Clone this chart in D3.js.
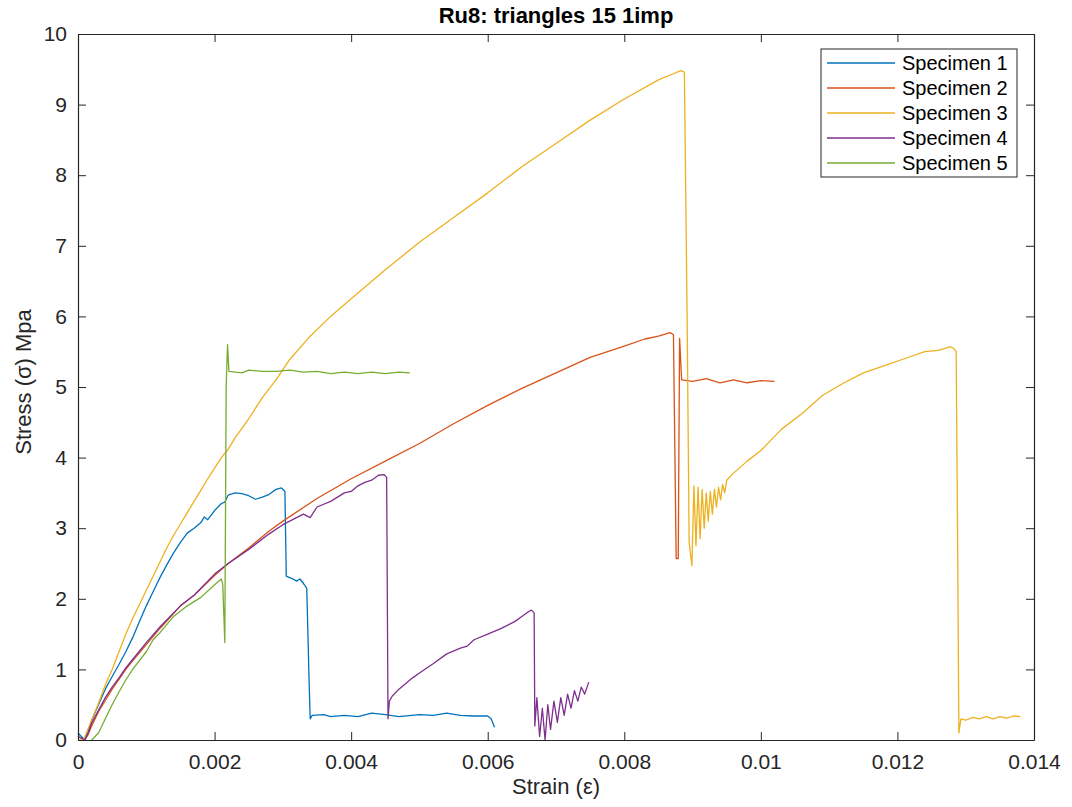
<!DOCTYPE html>
<html><head><meta charset="utf-8">
<script src="https://cdn.jsdelivr.net/npm/d3@7"></script>
<style>
body{margin:0;background:#fff;}
svg{display:block;font-family:"Liberation Sans",Arial,sans-serif;}
</style></head><body>
<svg id="c" width="1072" height="807"></svg>
<script>
const seriesNames = ["Specimen 1","Specimen 2","Specimen 3","Specimen 4","Specimen 5"];
const seriesColors = ["#0072BD","#D95319","#EDB120","#7E2F8E","#77AC30"];
const xTicks = [0,0.002,0.004,0.006,0.008,0.01,0.012,0.014];
const xTickLabels = ["0","0.002","0.004","0.006","0.008","0.01","0.012","0.014"];
const yTicks = [0,1,2,3,4,5,6,7,8,9,10];

const specimen1 = [[0,0.1],[0.00005,0.05],[0.0001,0.0],[0.00015,0.12],[0.0002,0.28],[0.0003,0.5],[0.0004,0.72],[0.0005,0.9],[0.0006,1.07],[0.0007,1.25],[0.0008,1.45],[0.0009,1.68],[0.001,1.9],[0.0011,2.1],[0.0012,2.3],[0.0013,2.48],[0.0014,2.65],[0.0015,2.8],[0.0016,2.93],[0.0017,3.0],[0.0018,3.08],[0.00185,3.16],[0.0019,3.12],[0.002,3.25],[0.0021,3.35],[0.00215,3.37],[0.0022,3.47],[0.0023,3.5],[0.0024,3.49],[0.0025,3.46],[0.0026,3.41],[0.0027,3.44],[0.0028,3.48],[0.0029,3.55],[0.00298,3.57],[0.00303,3.52],[0.00305,2.32],[0.0031,2.3],[0.00315,2.28],[0.0032,2.25],[0.00325,2.28],[0.0033,2.22],[0.00335,2.15],[0.00338,1.0],[0.0034,0.3],[0.00343,0.35],[0.0036,0.36],[0.0037,0.33],[0.0039,0.35],[0.0041,0.33],[0.0043,0.38],[0.0045,0.36],[0.0047,0.33],[0.005,0.36],[0.0052,0.35],[0.0054,0.38],[0.0056,0.35],[0.0058,0.34],[0.006,0.34],[0.00605,0.3],[0.0061,0.18]];

const specimen2 = [[0,0.05],[0.0001,0],[0.00015,0.08],[0.0002,0.2],[0.0003,0.4],[0.0004,0.56],[0.0005,0.72],[0.0006,0.86],[0.0007,1.0],[0.0008,1.12],[0.001,1.35],[0.0012,1.58],[0.0015,1.9],[0.0017,2.05],[0.002,2.33],[0.0022,2.5],[0.0025,2.72],[0.0028,2.96],[0.003,3.1],[0.0035,3.42],[0.004,3.7],[0.0045,3.95],[0.005,4.2],[0.0055,4.48],[0.006,4.74],[0.0065,4.98],[0.007,5.2],[0.0075,5.42],[0.008,5.58],[0.0083,5.68],[0.0085,5.72],[0.00867,5.77],[0.00872,5.74],[0.00876,2.57],[0.00879,2.57],[0.00881,5.69],[0.00884,5.1],[0.009,5.08],[0.0092,5.12],[0.0094,5.06],[0.0096,5.1],[0.0098,5.06],[0.01,5.09],[0.0102,5.08]];

const specimen3 = [[0,0],[0.00007,0],[0.0001,0.05],[0.0002,0.28],[0.0003,0.52],[0.0004,0.78],[0.0005,1.0],[0.0006,1.25],[0.0007,1.5],[0.0008,1.72],[0.0009,1.92],[0.001,2.12],[0.0011,2.32],[0.0012,2.52],[0.0013,2.72],[0.0014,2.9],[0.0015,3.06],[0.0016,3.22],[0.0017,3.38],[0.0018,3.54],[0.0019,3.7],[0.002,3.85],[0.0021,4.0],[0.0022,4.12],[0.0023,4.28],[0.0025,4.55],[0.0027,4.85],[0.0029,5.1],[0.0031,5.39],[0.0034,5.72],[0.0037,6.0],[0.004,6.25],[0.0045,6.66],[0.005,7.05],[0.0055,7.4],[0.006,7.75],[0.0065,8.12],[0.007,8.45],[0.0075,8.78],[0.008,9.08],[0.0085,9.35],[0.0087,9.43],[0.00883,9.48],[0.00888,9.46],[0.00892,6.0],[0.00895,2.8],[0.00899,2.47],[0.00902,3.6],[0.00905,2.75],[0.00908,3.58],[0.00911,2.85],[0.00914,3.55],[0.00917,3.0],[0.0092,3.5],[0.00923,3.1],[0.00926,3.52],[0.00929,3.2],[0.00932,3.55],[0.00935,3.3],[0.00938,3.58],[0.00941,3.4],[0.00944,3.62],[0.00947,3.5],[0.0095,3.68],[0.0096,3.78],[0.0098,3.95],[0.01,4.1],[0.0103,4.4],[0.0106,4.62],[0.0109,4.88],[0.0112,5.05],[0.0115,5.2],[0.0118,5.3],[0.0121,5.4],[0.0124,5.5],[0.0126,5.52],[0.01277,5.57],[0.01282,5.55],[0.01286,5.5],[0.01288,3.0],[0.0129,0.1],[0.01293,0.3],[0.013,0.28],[0.0131,0.32],[0.0132,0.3],[0.0133,0.33],[0.0134,0.3],[0.0135,0.33],[0.0136,0.31],[0.0137,0.34],[0.0138,0.33]];

const specimen4 = [[0,0.05],[0.0001,0],[0.00015,0.1],[0.0002,0.24],[0.0003,0.42],[0.0004,0.6],[0.0005,0.75],[0.0006,0.88],[0.0007,1.02],[0.0008,1.14],[0.001,1.38],[0.0012,1.6],[0.0015,1.9],[0.0017,2.05],[0.002,2.35],[0.0022,2.5],[0.0025,2.7],[0.0028,2.92],[0.003,3.05],[0.0032,3.15],[0.0033,3.2],[0.0034,3.15],[0.0035,3.3],[0.0037,3.38],[0.0039,3.5],[0.004,3.52],[0.0041,3.6],[0.0042,3.65],[0.0043,3.68],[0.0044,3.75],[0.00448,3.76],[0.00452,3.72],[0.00454,0.3],[0.00456,0.55],[0.0046,0.62],[0.0047,0.72],[0.0048,0.8],[0.0049,0.88],[0.005,0.95],[0.0052,1.08],[0.0054,1.22],[0.0056,1.3],[0.0057,1.33],[0.0058,1.42],[0.006,1.5],[0.0062,1.58],[0.0064,1.68],[0.0065,1.75],[0.0066,1.82],[0.00664,1.84],[0.00668,1.8],[0.00669,0.2],[0.00672,0.6],[0.00676,0.05],[0.0068,0.45],[0.00684,0.0],[0.00688,0.5],[0.00692,0.15],[0.00697,0.55],[0.00702,0.25],[0.00707,0.6],[0.00712,0.35],[0.00717,0.65],[0.00722,0.45],[0.00727,0.7],[0.00732,0.55],[0.00737,0.75],[0.00742,0.65],[0.00748,0.82]];

const specimen5 = [[0.0002,0],[0.0003,0.1],[0.0004,0.3],[0.0005,0.5],[0.0006,0.68],[0.0007,0.85],[0.0008,1.0],[0.001,1.25],[0.0011,1.42],[0.0012,1.52],[0.0014,1.75],[0.0016,1.9],[0.0018,2.02],[0.002,2.2],[0.0021,2.28],[0.00212,2.2],[0.00215,1.38],[0.00217,5.0],[0.00219,5.6],[0.00221,5.22],[0.0024,5.2],[0.0025,5.24],[0.0027,5.22],[0.0029,5.22],[0.0031,5.24],[0.0033,5.21],[0.0035,5.22],[0.0037,5.19],[0.0039,5.21],[0.0041,5.19],[0.0043,5.21],[0.0045,5.19],[0.0047,5.21],[0.00486,5.2]];

const allSeries = [specimen1,specimen2,specimen3,specimen4,specimen5];

const svg = d3.select("#c");
const L=78, R=1034, T=34, B=740;
const x = d3.scaleLinear().domain([0,0.014]).range([L,R]);
const y = d3.scaleLinear().domain([0,10]).range([B,T]);
const axisCol = "#262626";

svg.append("rect").attr("width",1072).attr("height",807).attr("fill","#fff");

const line = d3.line().x(d=>x(d[0])).y(d=>y(d[1]));
allSeries.forEach((s,i)=>{
  svg.append("path").datum(s).attr("d",line).attr("fill","none")
    .attr("stroke",seriesColors[i]).attr("stroke-width",1.3).attr("stroke-linejoin","round");
});

const fmt = d=>xTickLabels[xTicks.indexOf(d)];
const gx = svg.append("g").attr("transform",`translate(0,${B})`)
  .call(d3.axisBottom(x).tickValues(xTicks).tickFormat(fmt).tickSizeInner(-8).tickSizeOuter(0).tickPadding(14));
const gxt = svg.append("g").attr("transform",`translate(0,${T})`)
  .call(d3.axisTop(x).tickValues(xTicks).tickFormat("").tickSizeInner(-8).tickSizeOuter(0));
const gy = svg.append("g").attr("transform",`translate(${L},0)`)
  .call(d3.axisLeft(y).tickValues(yTicks).tickFormat(d3.format("d")).tickSizeInner(-8).tickSizeOuter(0).tickPadding(11));
const gyr = svg.append("g").attr("transform",`translate(${R},0)`)
  .call(d3.axisRight(y).tickValues(yTicks).tickFormat("").tickSizeInner(-8).tickSizeOuter(0));
[gx,gxt,gy,gyr].forEach(g=>{
  g.selectAll("path.domain").attr("stroke",axisCol).attr("stroke-width",1.2);
  g.selectAll(".tick line").attr("stroke",axisCol).attr("stroke-width",1);
  g.selectAll("text").attr("fill",axisCol).attr("font-size",21).attr("font-family","Liberation Sans, Arial, sans-serif");
});

svg.append("text").attr("x",(L+R)/2).attr("y",23).attr("text-anchor","middle")
  .attr("font-size",22).attr("font-weight","bold").attr("fill","#000")
  .text("Ru8: triangles 15 1imp");
svg.append("text").attr("x",(L+R)/2).attr("y",794).attr("text-anchor","middle")
  .attr("font-size",22).attr("fill",axisCol).text("Strain (ε)");
svg.append("text").attr("transform",`translate(31,382) rotate(-90)`).attr("text-anchor","middle")
  .attr("font-size",22).attr("fill",axisCol).text("Stress (σ) Mpa");

const lg = svg.append("g");
lg.append("rect").attr("x",821).attr("y",49).attr("width",196).attr("height",128)
  .attr("fill","#fff").attr("stroke",axisCol).attr("stroke-width",1);
seriesNames.forEach((n,i)=>{
  const yy = 63 + i*25;
  lg.append("line").attr("x1",827).attr("x2",895).attr("y1",yy).attr("y2",yy)
    .attr("stroke",seriesColors[i]).attr("stroke-width",1.3);
  lg.append("text").attr("x",902).attr("y",yy+7).attr("font-size",20).attr("fill","#000").text(n);
});
</script></body></html>
